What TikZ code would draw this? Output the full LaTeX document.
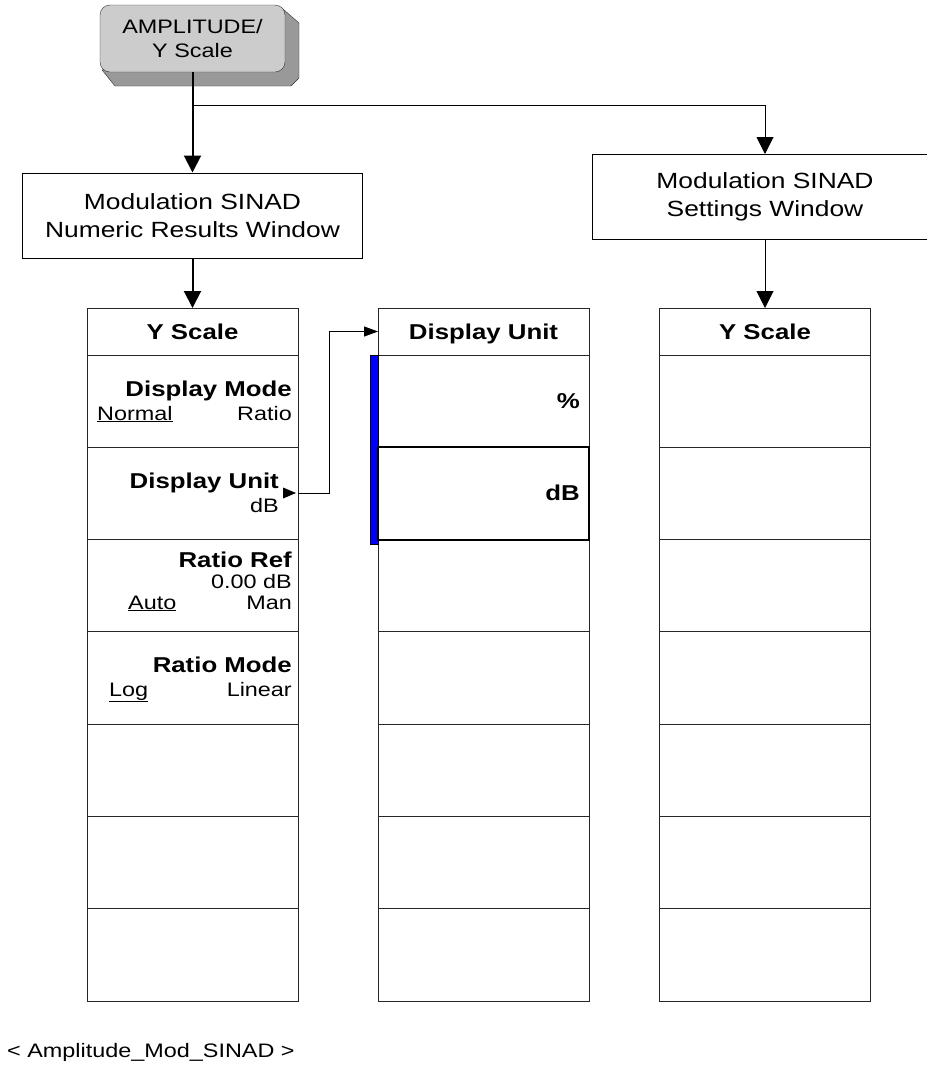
\documentclass[tikz,border=0pt]{standalone}
\usepackage{fontspec}
\setmainfont{Liberation Sans}[FakeStretch=1.2]
\usetikzlibrary{arrows.meta}

\tikzset{
  keyface/.style={draw=black!80,fill=black!20,rounded corners=10pt,minimum width=185pt,minimum height=67pt,
    align=center,inner sep=0pt,font=\fontsize{19.5}{24}\selectfont},
  win/.style={draw,line width=1pt,minimum width=340pt,minimum height=85pt,align=center,inner sep=0pt,
    font=\fontsize{22}{28}\selectfont},
  keycell/.style={draw=black!85,line width=1pt,minimum width=211pt,minimum height=92.3pt,inner sep=0pt,outer sep=0pt},
  headcell/.style={keycell,minimum height=47pt,text height=15.5pt,text depth=0pt,font=\fontsize{21.5}{24}\selectfont\bfseries},
  lbl/.style={inner sep=0pt,anchor=base east,font=\fontsize{21.5}{24}\selectfont\bfseries},
  val/.style={inner sep=0pt,font=\fontsize{19.5}{22}\selectfont},
  link/.style={line width=1pt,-{Triangle[width=17pt,length=17pt]}},
  mainlink/.style={link,line width=2pt},
  sublink/.style={line width=1pt,-{Triangle[width=10pt,length=14pt]}},
}

\begin{document}
\begin{tikzpicture}[x=1pt,y=-1pt]
\useasboundingbox (0,0) rectangle (927,1072);

% hardkey
\fill[black!40,draw=black!80] (283,9) -- (299,23) -- (299,78) -- (291,86) -- (115,86) -- (102,70) -- cycle;
\node[keyface] (key) at (192.5,38.5) {AMPLITUDE/\\Y Scale};

\node[win] (numwin) at (192.5,215.5) {Modulation SINAD\\Numeric Results Window};
\node[win,minimum width=345pt] (setwin) at (765,197) {Modulation SINAD\\Settings Window};

\foreach \c/\x/\t in {l/192.5/Y Scale, m/483.5/Display Unit, r/765/Y Scale}{
  \node[headcell] (\c0) at (\x,331.5) {\t};
  \foreach \i in {1,...,7}
    \node[keycell] (\c\i) at (\x,{355+92.3*(\i-0.5)}) {};
}

\coordinate (fork) at (192.5,105);
\draw[mainlink] (key.south) -- (numwin.north);
\draw[link] (fork) -| (setwin.north);
\draw[mainlink] (numwin.south) -- (l0.north);
\draw[link] (setwin.south) -- (r0.north);

% left menu
\node[lbl] (dmode) at (292,396) {Display Mode};
\node[val,anchor=base west] (dmnormal) at (97,420) {\underline{Normal}};
\node[val,anchor=base east] (dmratio) at (292,420) {Ratio};
\node[lbl] (dunit) at (279,488) {Display Unit};
\node[val,anchor=base east] (dunitval) at (279,512) {dB};
\fill (283,487.5) -- (296,493) -- (283,498.5) -- cycle;
\node[lbl] (rref) at (292,567) {Ratio Ref};
\node[val,anchor=base east] (rrefval) at (292,588) {0.00 dB};
\node[val,anchor=base west] (rrefauto) at (128,609) {\underline{Auto}};
\node[val,anchor=base east] (rrefman) at (292,609) {Man};
\node[lbl] (rmode) at (292,672) {Ratio Mode};
\node[val,anchor=base west] (rmlog) at (109,696) {\underline{Log}};
\node[val,anchor=base east] (rmlinear) at (292,696) {Linear};

% display unit menu
\fill[blue,draw=black,line width=0.5pt] ([xshift=-8pt]m1.north west) rectangle ([yshift=-5pt]m2.south west);
\draw[line width=2pt] (m2.south west) rectangle (m2.north east);
\node[lbl] (pct) at (580,408) {\%};
\node[lbl] (mdb) at (580,500) {dB};
\draw[sublink] (l2.east) -- ++(31,0) |- (m0.west);

\node[val,anchor=base west] (tag) at (7,1057) {< Amplitude\_Mod\_SINAD >};
\end{tikzpicture}
\end{document}
